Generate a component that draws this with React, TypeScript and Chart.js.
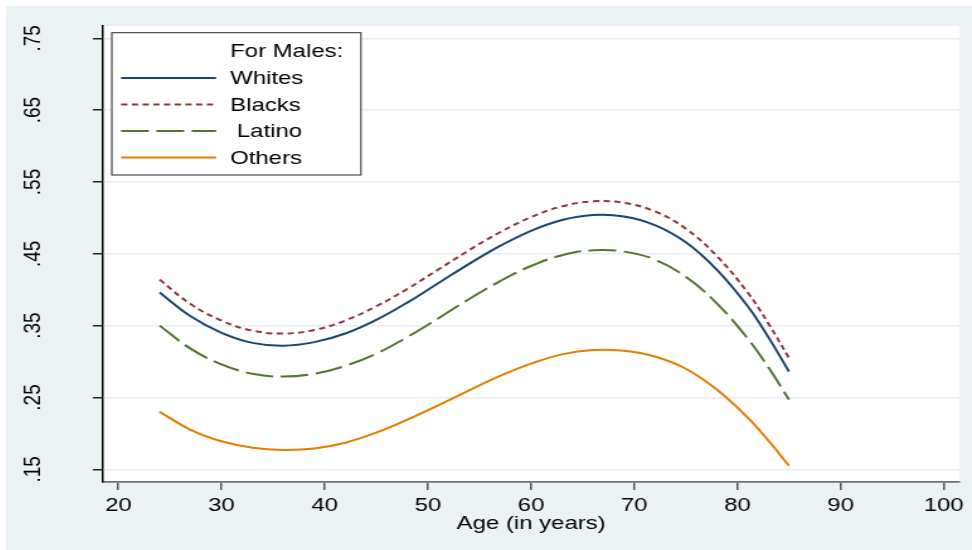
import React, { useEffect, useRef } from 'react';
import { Chart, registerables } from 'chart.js';

Chart.register(...registerables);

// ---- data ----
const ages = [24, 27, 30, 33, 36, 39, 42, 45, 48, 51, 54, 57, 60, 63, 66, 69, 72, 75, 78, 81, 83, 85];
const whites = [0.396, 0.363, 0.340, 0.326, 0.322, 0.327, 0.339, 0.358, 0.382, 0.409, 0.436, 0.461, 0.482, 0.497, 0.504, 0.502, 0.490, 0.466, 0.428, 0.377, 0.334, 0.286];
const blacks = [0.414, 0.380, 0.357, 0.343, 0.339, 0.344, 0.357, 0.377, 0.401, 0.428, 0.455, 0.480, 0.501, 0.516, 0.523, 0.521, 0.509, 0.485, 0.447, 0.396, 0.353, 0.305];
const latino = [0.350, 0.318, 0.296, 0.283, 0.279, 0.283, 0.294, 0.311, 0.334, 0.360, 0.387, 0.412, 0.433, 0.448, 0.455, 0.453, 0.442, 0.418, 0.381, 0.332, 0.292, 0.247];
const others = [0.230, 0.205, 0.189, 0.180, 0.177, 0.179, 0.187, 0.201, 0.219, 0.239, 0.260, 0.280, 0.297, 0.310, 0.316, 0.315, 0.307, 0.290, 0.261, 0.222, 0.190, 0.155];

const seriesLabels = ['Whites', 'Blacks', ' Latino', 'Others'];
const legendTitle = 'For Males:';
const xTitle = 'Age (in years)';
const xTicks = [20, 30, 40, 50, 60, 70, 80, 90, 100];
const yTicks = [0.15, 0.25, 0.35, 0.45, 0.55, 0.65, 0.75];
const yTickLabels = ['.15', '.25', '.35', '.45', '.55', '.65', '.75'];

const FONT = "'Liberation Sans', Arial, sans-serif";
const SX = 1.26; // horizontal stretch of the reference picture
const CW = 767;
const CH = 544;

const toPoints = (vals: number[]) => ages.map((a, i) => ({ x: a, y: vals[i] }));

const plotBgPlugin = {
  id: 'plotBg',
  beforeDraw(chart: any) {
    const { ctx, chartArea } = chart;
    ctx.save();
    ctx.fillStyle = '#ffffff';
    ctx.fillRect(chartArea.left, chartArea.top, chartArea.right - chartArea.left, chartArea.bottom - chartArea.top);
    ctx.restore();
  },
};

const boxLegendPlugin = {
  id: 'boxLegend',
  afterDraw(chart: any) {
    const { ctx, chartArea } = chart;
    const bx = chartArea.left + 7;
    const by = chartArea.top + 6.7;
    const bw = 197.8;
    const bh = 142.3;
    ctx.save();
    ctx.fillStyle = '#ffffff';
    ctx.fillRect(bx, by, bw, bh);
    ctx.strokeStyle = '#3a3a3a';
    ctx.lineWidth = 1.1;
    ctx.strokeRect(bx, by, bw, bh);
    ctx.font = `19px ${FONT}`;
    ctx.fillStyle = '#000000';
    ctx.textBaseline = 'middle';
    ctx.textAlign = 'left';
    const textX = bx + 94;
    ctx.fillText(legendTitle, textX, by + 19.5);
    const rowY0 = by + 45.3;
    const rowStep = 26.5;
    chart.data.datasets.forEach((ds: any, i: number) => {
      const y = rowY0 + i * rowStep;
      ctx.beginPath();
      ctx.setLineDash(ds.borderDash || []);
      ctx.strokeStyle = ds.borderColor;
      ctx.lineWidth = ds.borderWidth;
      ctx.moveTo(bx + 7.4, y);
      ctx.lineTo(bx + 82.8, y);
      ctx.stroke();
      ctx.setLineDash([]);
      ctx.fillText(ds.label, textX, y + 1);
    });
    ctx.restore();
  },
};

export default function App() {
  const ref = useRef<HTMLCanvasElement | null>(null);

  useEffect(() => {
    if (!ref.current) return;
    const chart = new Chart(ref.current, {
      type: 'line',
      data: {
        datasets: [
          { label: seriesLabels[0], data: toPoints(whites), borderColor: '#1a476f', borderWidth: 2, borderDash: [] },
          { label: seriesLabels[1], data: toPoints(blacks), borderColor: '#90353b', borderWidth: 2, borderDash: [5, 3.5] },
          { label: seriesLabels[2], data: toPoints(latino), borderColor: '#55752f', borderWidth: 2, borderDash: [22, 6] },
          { label: seriesLabels[3], data: toPoints(others), borderColor: '#e37e00', borderWidth: 2, borderDash: [] },
        ] as any,
      },
      options: {
        animation: false,
        responsive: false,
        devicePixelRatio: 1,
        layout: { padding: { left: 0, top: 20, right: 10, bottom: 0 } },
        elements: {
          point: { radius: 0, hoverRadius: 0 },
          line: { tension: 0.4, fill: false },
        },
        plugins: {
          legend: { display: false },
          tooltip: { enabled: false },
        },
        scales: {
          x: {
            type: 'linear',
            min: 18.51,
            max: 101.52,
            afterBuildTicks: (scale: any) => {
              scale.ticks = xTicks.map((v) => ({ value: v }));
            },
            afterFit: (scale: any) => {
              scale.height = 68;
              scale.paddingLeft = 0;
              scale.paddingRight = 0;
            },
            grid: {
              display: true,
              drawOnChartArea: false,
              drawTicks: true,
              tickLength: 8,
              tickColor: '#555555',
              lineWidth: 1.5,
            },
            border: { display: true, color: '#707070', width: 1.7 },
            ticks: {
              autoSkip: false,
              maxRotation: 0,
              minRotation: 0,
              padding: 4,
              color: '#000000',
              font: { family: FONT, size: 19 },
              callback: (v: any) => String(v),
            },
            title: {
              display: true,
              text: xTitle,
              color: '#000000',
              font: { family: FONT, size: 19 },
              padding: { top: 0, bottom: 15 },
            },
          },
          y: {
            type: 'linear',
            min: 0.1323,
            max: 0.7671,
            afterBuildTicks: (scale: any) => {
              scale.ticks = yTicks.map((v) => ({ value: v }));
            },
            afterFit: (scale: any) => {
              scale.width = 77;
              scale.paddingTop = 0;
              scale.paddingBottom = 0;
            },
            grid: {
              display: true,
              drawOnChartArea: true,
              drawTicks: true,
              tickLength: 8,
              color: '#e6eef1',
              tickColor: '#222222',
              lineWidth: 1.5,
            },
            border: { display: true, color: '#000000', width: 1.5 },
            ticks: {
              autoSkip: false,
              minRotation: 90,
              maxRotation: 90,
              crossAlign: 'center',
              padding: 34,
              color: '#000000',
              font: { family: FONT, size: 19 },
              callback: (_v: any, i: number) => yTickLabels[i],
            },
          },
        },
      },
      plugins: [plotBgPlugin, boxLegendPlugin],
    } as any);
    return () => chart.destroy();
  }, []);

  return (
    <div
      style={{
        position: 'absolute',
        left: 6,
        top: 6,
        width: 966,
        height: 544,
        background: '#eaf2f3',
        overflow: 'hidden',
      }}
    >
      <canvas
        ref={ref}
        width={CW}
        height={CH}
        style={{ display: 'block', width: `${Math.round(CW * SX)}px`, height: `${CH}px` }}
      />
    </div>
  );
}
